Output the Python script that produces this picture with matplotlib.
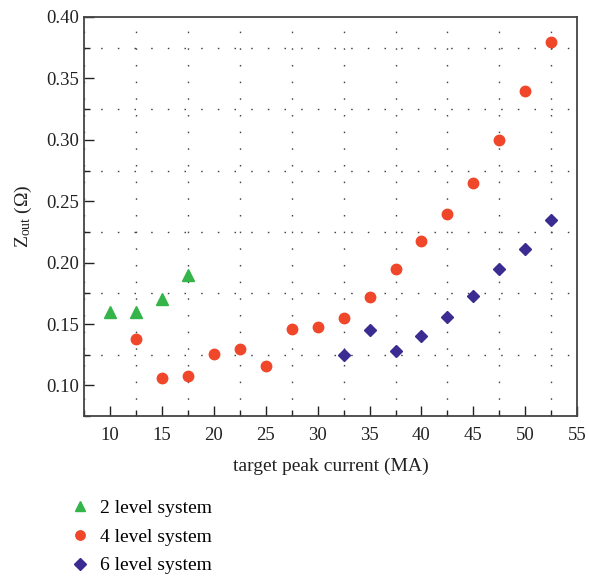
import numpy as np
import matplotlib
matplotlib.use("Agg")
import matplotlib.pyplot as plt
from matplotlib.ticker import MultipleLocator

# data
current_2 = [10, 12.5, 15, 17.5]
zout_2 = [0.160, 0.160, 0.170, 0.190]

current_4 = [12.5, 15, 17.5, 20, 22.5, 25, 27.5, 30, 32.5, 35, 37.5, 40, 42.5, 45, 47.5, 50, 52.5]
zout_4 = [0.138, 0.106, 0.108, 0.126, 0.130, 0.116, 0.146, 0.148, 0.155, 0.172, 0.195, 0.218, 0.240, 0.265, 0.300, 0.340, 0.380]

current_6 = [32.5, 35, 37.5, 40, 42.5, 45, 47.5, 50, 52.5]
zout_6 = [0.125, 0.145, 0.128, 0.140, 0.156, 0.173, 0.195, 0.211, 0.235]

series_labels = ["2 level system", "4 level system", "6 level system"]

plt.rcParams["font.family"] = ["Liberation Serif", "DejaVu Serif"]
plt.rcParams["mathtext.fontset"] = "custom"
plt.rcParams["mathtext.rm"] = "Liberation Serif"
plt.rcParams["mathtext.it"] = "Liberation Serif:italic"

fig = plt.figure(figsize=(5.89, 5.78), dpi=100)
ax = fig.add_axes([0.1426, 0.28, 0.8374, 0.6906])

h2, = ax.plot(current_2, zout_2, linestyle="none", marker="^", markersize=8.5, color="#35b44a", label=series_labels[0])
h4, = ax.plot(current_4, zout_4, linestyle="none", marker="o", markersize=7.5, color="#f0462a", label=series_labels[1])
h6, = ax.plot(current_6, zout_6, linestyle="none", marker="D", markersize=6.5, color="#3b2c92", label=series_labels[2])

ax.set_xlim(7.5, 55)
ax.set_ylim(0.075, 0.40)
ax.xaxis.set_major_locator(MultipleLocator(5))
ax.xaxis.set_minor_locator(MultipleLocator(2.5))
ax.yaxis.set_major_locator(MultipleLocator(0.05))
ax.yaxis.set_minor_locator(MultipleLocator(0.025))
ax.yaxis.set_major_formatter(plt.FormatStrFormatter("%.2f"))

# dotted grid only at the half-steps
ax.grid(which="minor", color="#444444", linestyle=(0, (1.1, 10.9)), linewidth=1.0)
ax.grid(which="major", visible=False)

ax.tick_params(which="both", direction="in", top=False, right=False, labelsize=13.5, colors="#222222")
ax.tick_params(which="major", length=7, width=1)
ax.tick_params(which="minor", length=4, width=1)
ax.tick_params(axis="x", pad=8)
for spine in ax.spines.values():
    spine.set_color("#444444")
    spine.set_linewidth(1.3)

ax.set_xlabel("target peak current (MA)", fontsize=14, color="#222222", labelpad=10)
ax.set_ylabel(r"Z$_{\mathregular{out}}$ ($\Omega$)", fontsize=14, color="#222222", labelpad=9)

fig.legend(handles=[h2, h4, h6], loc="upper left", bbox_to_anchor=(0.11, 0.15),
           frameon=False, fontsize=14, markerscale=0.9, handlelength=0.8, handletextpad=0.6,
           labelspacing=0.58, borderaxespad=0)

fig.savefig("out.png", dpi=100)
